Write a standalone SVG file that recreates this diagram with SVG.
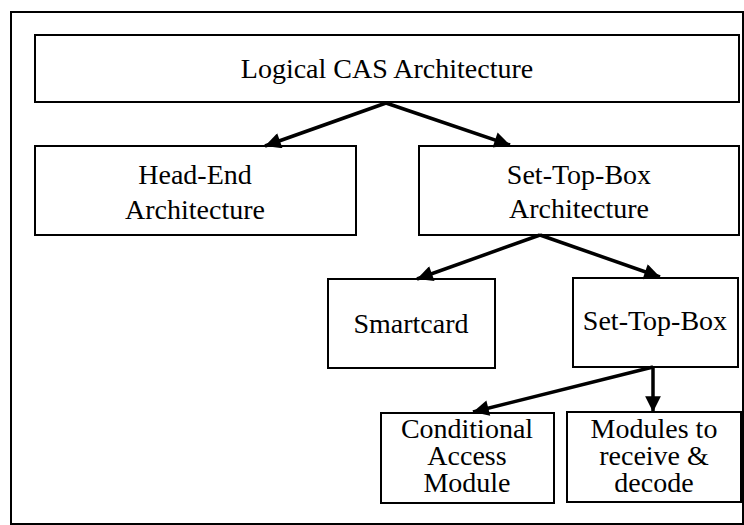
<svg xmlns="http://www.w3.org/2000/svg" width="744" height="525" viewBox="0 0 744 525">
<defs>
<marker id="ah" viewBox="0 0 10 10" refX="10" refY="5" markerWidth="5" markerHeight="4.5" markerUnits="strokeWidth" orient="auto">
<path d="M0,0 L10,5 L0,10 z" fill="#000"/>
</marker>
<style>
.box{fill:#fff;stroke:#000;stroke-width:2}
.t{font-size:28px;fill:#000;text-anchor:middle}
.c{stroke:#000;stroke-width:3.5;fill:none;marker-end:url(#ah)}
</style>
</defs>
<rect width="744" height="525" fill="#fff"/>
<rect x="11" y="12" width="732" height="512" fill="none" stroke="#000" stroke-width="2"/>
<g font-family="Liberation Serif, Times New Roman, DejaVu Serif, serif">
<g id="logical-cas">
<rect class="box" x="35" y="35" width="704" height="67"/>
<text class="t" x="387" y="78">Logical CAS Architecture</text>
</g>
<g id="head-end">
<rect class="box" x="35" y="146" width="321" height="89"/>
<text class="t" x="195" y="184">Head-End</text>
<text class="t" x="195" y="219">Architecture</text>
</g>
<g id="stb-arch">
<rect class="box" x="419" y="146" width="320" height="89"/>
<text class="t" x="579" y="184">Set-Top-Box</text>
<text class="t" x="579" y="218">Architecture</text>
</g>
<g id="smartcard">
<rect class="box" x="328" y="279" width="167" height="89"/>
<text class="t" x="411" y="333">Smartcard</text>
</g>
<g id="stb">
<rect class="box" x="573" y="278" width="165" height="89"/>
<text class="t" x="655" y="330">Set-Top-Box</text>
</g>
<g id="cam">
<rect class="box" x="381" y="413" width="173" height="90"/>
<text class="t" x="467" y="438">Conditional</text>
<text class="t" x="467" y="465">Access</text>
<text class="t" x="467" y="492">Module</text>
</g>
<g id="modules">
<rect class="box" x="567" y="412" width="174" height="90"/>
<text class="t" x="654" y="438">Modules to</text>
<text class="t" x="654" y="465">receive &amp;</text>
<text class="t" x="654" y="492">decode</text>
</g>
</g>
<g id="connectors">
<line class="c" x1="386" y1="103" x2="265" y2="146"/>
<line class="c" x1="386" y1="103" x2="510" y2="145"/>
<line class="c" x1="540" y1="235" x2="417" y2="279"/>
<line class="c" x1="540" y1="235" x2="660" y2="277"/>
<line class="c" x1="653" y1="367" x2="473" y2="412"/>
<line class="c" x1="653" y1="367" x2="653" y2="412"/>
</g>
</svg>
